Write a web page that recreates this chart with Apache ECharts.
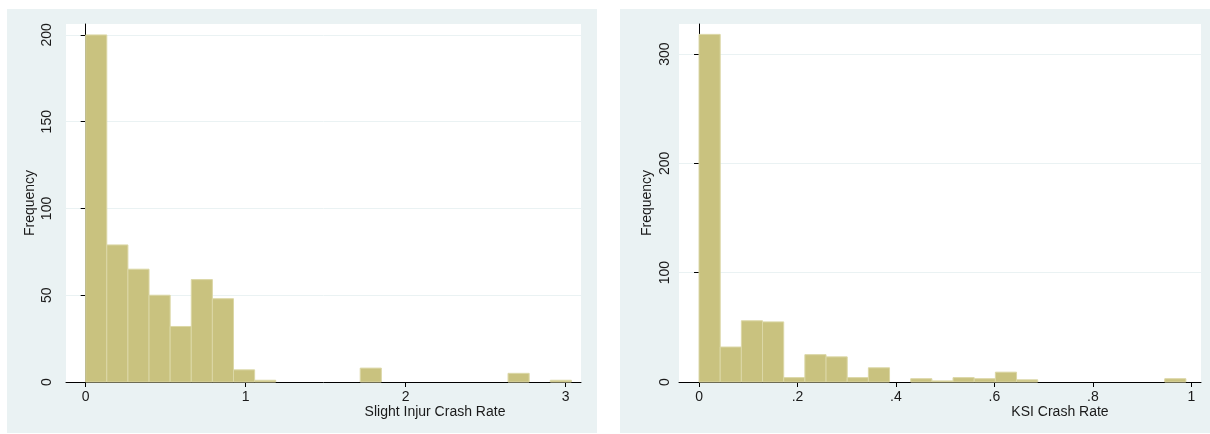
<!DOCTYPE html>
<html>

<head>
  <meta charset="utf-8" />
  <title>Crash rate histograms</title>
  <script src="https://cdn.jsdelivr.net/npm/echarts@6/dist/echarts.min.js"></script>
</head>

<body style="margin:0;background:#fff;">
  <div id="hist" style="width:1210px;height:434px;"></div>
  <script type="text/javascript">

    // Histogram bins (23 bins each, starting at 0)
    let slightBinWidth = 0.132;
    let slightCounts = [200, 79, 65, 50, 32, 59, 48, 7, 1, 0, 0, 0, 0, 8, 0, 0, 0, 0, 0, 0, 5, 0, 1];
    let ksiBinWidth = 0.043;
    let ksiCounts = [318, 32, 56, 55, 4, 25, 23, 4, 13, 0, 3, 1, 4, 3, 9, 2, 0, 0, 0, 0, 0, 0, 3];

    // Tick labels
    let slightXTicks = [0, 1, 2, 3];
    let slightYTicks = [0, 50, 100, 150, 200];
    let ksiXTicks = [0, 0.2, 0.4, 0.6, 0.8, 1];
    let ksiYTicks = [0, 100, 200, 300];

    let barFill = '#c9c27f';
    let barEdge = '#dbd7a6';
    let panelBg = '#eaf2f3';
    let font = 'Liberation Sans, Arial, sans-serif';

    function toBins(counts, width) {
      return counts.map(function (c, i) {
        return [i * width, (i + 1) * width, c];
      });
    }

    function renderBin(params, api) {
      if (api.value(2) <= 0) return null;
      var top = api.coord([api.value(0), api.value(2)]);
      var bottom = api.coord([api.value(1), 0]);
      return {
        type: 'rect',
        shape: { x: top[0], y: top[1], width: bottom[0] - top[0], height: bottom[1] - top[1] },
        style: { fill: barFill, stroke: barEdge, lineWidth: 1 }
      };
    }

    function xFmt(v) {
      if (v === 0) return '0';
      if (v === 1) return '1';
      return String(v).replace(/^0\./, '.');
    }

    function xAxisFor(idx, min, max, ticks) {
      return {
        gridIndex: idx,
        type: 'value',
        min: min,
        max: max,
        axisLine: { show: true, onZero: false, lineStyle: { color: '#000', width: 1 } },
        axisTick: { show: true, length: 5, customValues: ticks, lineStyle: { color: '#000' } },
        axisLabel: { customValues: ticks, margin: 8, color: '#1a1a1a', fontSize: 14, fontFamily: font, formatter: xFmt },
        splitLine: { show: false }
      };
    }

    function yAxisFor(idx, max, interval, ticks, margin, gap) {
      return {
        gridIndex: idx,
        type: 'value',
        min: 0,
        max: max,
        interval: interval,
        name: 'Frequency',
        nameLocation: 'middle',
        nameGap: gap,
        nameTextStyle: { color: '#1a1a1a', fontSize: 14, fontFamily: font },
        axisLine: { show: true, lineStyle: { color: '#000', width: 1 } },
        axisTick: { show: true, length: 5, customValues: ticks, lineStyle: { color: '#000' } },
        axisLabel: { customValues: ticks, rotate: 90, margin: margin, color: '#1a1a1a', fontSize: 14, fontFamily: font },
        splitLine: { show: true, lineStyle: { color: panelBg, width: 1 } }
      };
    }

    var chart = echarts.init(document.getElementById('hist'));

    var option = {
      animation: false,
      backgroundColor: '#fff',
      graphic: [
        { type: 'rect', z: -10, shape: { x: 7, y: 9, width: 590, height: 424 }, style: { fill: panelBg } },
        { type: 'rect', z: -10, shape: { x: 620, y: 9, width: 590, height: 424 }, style: { fill: panelBg } },
        { type: 'text', x: 435, y: 412, style: { text: 'Slight Injur Crash Rate', fill: '#1a1a1a', font: '14px ' + font, textAlign: 'center', textVerticalAlign: 'middle' } },
        { type: 'text', x: 1060, y: 412, style: { text: 'KSI Crash Rate', fill: '#1a1a1a', font: '14px ' + font, textAlign: 'center', textVerticalAlign: 'middle' } }
      ],
      grid: [
        { left: 66, top: 24, width: 515, height: 358, show: true, backgroundColor: '#fff', borderWidth: 0 },
        { left: 679, top: 24, width: 522, height: 358, show: true, backgroundColor: '#fff', borderWidth: 0 }
      ],
      xAxis: [
        xAxisFor(0, -0.123, 3.096, slightXTicks),
        xAxisFor(1, -0.0407, 1.0197, ksiXTicks)
      ],
      yAxis: [
        yAxisFor(0, 206.3, 50, slightYTicks, 12, 29),
        yAxisFor(1, 327.5, 100, ksiYTicks, 7, 25)
      ],
      series: [
        {
          name: 'Slight Injur Crash Rate',
          type: 'custom',
          xAxisIndex: 0,
          yAxisIndex: 0,
          renderItem: renderBin,
          encode: { x: [0, 1], y: 2 },
          data: toBins(slightCounts, slightBinWidth)
        },
        {
          name: 'KSI Crash Rate',
          type: 'custom',
          xAxisIndex: 1,
          yAxisIndex: 1,
          renderItem: renderBin,
          encode: { x: [0, 1], y: 2 },
          data: toBins(ksiCounts, ksiBinWidth)
        }
      ]
    };

    chart.setOption(option);
  </script>
</body>

</html>
